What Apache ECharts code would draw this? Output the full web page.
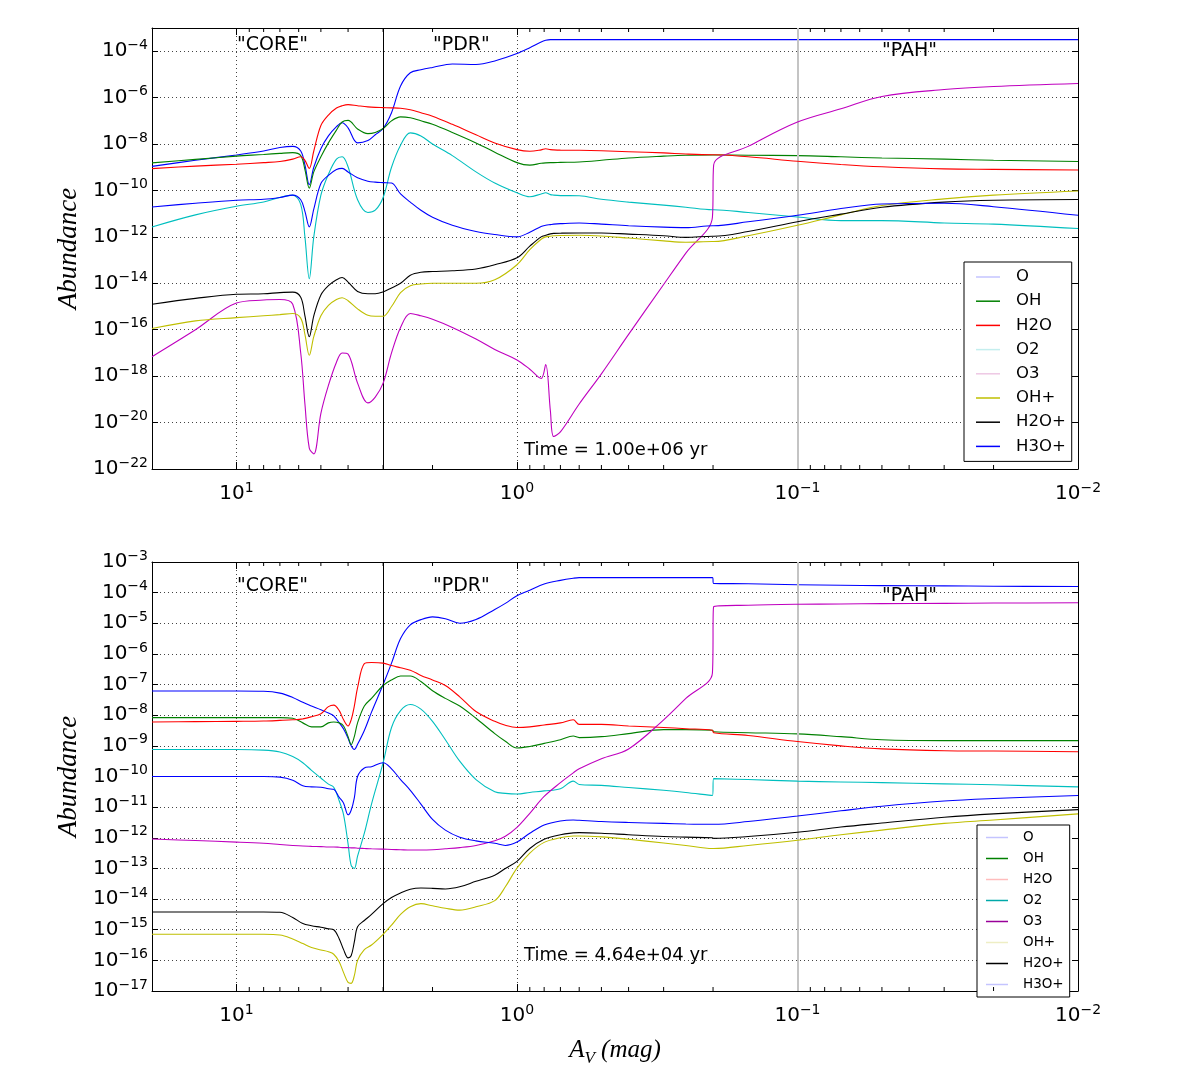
<!DOCTYPE html>
<html>
<head>
<meta charset="utf-8">
<title>Abundance vs A_V</title>
<script src="https://cdn.jsdelivr.net/npm/echarts@6/dist/echarts.min.js"></script>
<style>
html, body { margin: 0; padding: 0; background: #fff; }
#chart { width: 1200px; height: 1068px; }
</style>
</head>
<body>
<div id="chart"></div>
<script>
// species, in plotting order
var species = ['O', 'OH', 'H2O', 'O2', 'O3', 'OH+', 'H2O+', 'H3O+'];

// A_V sample points (mag) for each panel
var avTop = [20, 14, 10, 8, 7, 6.3, 5.9, 5.7, 5.5, 5.3, 5.0, 4.7, 4.4, 4.2, 4.0, 3.7, 3.4, 3.2, 3.0, 2.8,
  2.6, 2.4, 2.2, 2.0, 1.7, 1.4, 1.2, 1.0, 0.9, 0.82, 0.79, 0.76, 0.74, 0.7, 0.6, 0.5, 0.4, 0.3, 0.25, 0.201,
  0.199, 0.15, 0.1, 0.07, 0.05, 0.03, 0.02, 0.01];
var avBottom = [20, 14, 10, 8, 7, 6.3, 5.8, 5.4, 5.0, 4.7, 4.5, 4.3, 4.15, 4.0, 3.9, 3.8, 3.7, 3.5, 3.3, 3.0,
  2.8, 2.6, 2.4, 2.2, 2.0, 1.8, 1.6, 1.4, 1.2, 1.1, 1.0, 0.9, 0.8, 0.7, 0.63, 0.6, 0.5, 0.4, 0.3, 0.25,
  0.201, 0.199, 0.15, 0.1, 0.07, 0.05, 0.03, 0.02, 0.01];

// minor tick positions on the A_V axis
var minorTickAv = [0.02, 0.03, 0.04, 0.05, 0.06, 0.07, 0.08, 0.09,
  0.2, 0.3, 0.4, 0.5, 0.6, 0.7, 0.8, 0.9,
  2, 3, 4, 5, 6, 7, 8, 9];

// log10(abundance) (t = 1.00e+06 yr)
var topO = [-8.96, -8.70, -8.47, -8.30, -8.15, -8.10, -8.30, -8.90, -9.75, -9.00,
  -8.20, -7.65, -7.25, -7.08, -7.30, -7.95, -7.85, -7.60, -7.33, -6.65,
  -5.50, -4.93, -4.80, -4.70, -4.55, -4.57, -4.42, -4.10, -3.85, -3.60,
  -3.53, -3.50, -3.50, -3.50, -3.50, -3.50, -3.50, -3.50, -3.50, -3.50,
  -3.50, -3.50, -3.50, -3.50, -3.50, -3.50, -3.50, -3.50];
var topOH = [-8.81, -8.66, -8.52, -8.45, -8.40, -8.37, -8.50, -9.10, -9.90, -9.20,
  -8.55, -7.95, -7.40, -7.05, -6.98, -7.35, -7.55, -7.50, -7.33, -7.00,
  -6.83, -6.87, -7.00, -7.15, -7.50, -7.95, -8.35, -8.80, -8.91, -8.83,
  -8.81, -8.80, -8.80, -8.79, -8.77, -8.70, -8.60, -8.52, -8.48, -8.47,
  -8.47, -8.48, -8.50, -8.55, -8.60, -8.65, -8.70, -8.75];
var topH2O = [-9.06, -8.95, -8.87, -8.80, -8.75, -8.65, -8.55, -8.70, -9.05, -8.30,
  -7.20, -6.75, -6.45, -6.35, -6.30, -6.35, -6.40, -6.42, -6.43, -6.44,
  -6.46, -6.52, -6.65, -6.80, -7.15, -7.60, -7.95, -8.24, -8.31, -8.25,
  -8.20, -8.24, -8.25, -8.26, -8.27, -8.29, -8.33, -8.38, -8.43, -8.46,
  -8.46, -8.55, -8.74, -8.88, -8.98, -9.07, -9.09, -9.12];
var topO2 = [-11.57, -11.05, -10.68, -10.50, -10.30, -10.20, -10.60, -12.00, -13.80, -12.00,
  -10.20, -9.30, -8.65, -8.55, -8.98, -10.40, -10.95, -10.85, -10.30, -9.00,
  -8.05, -7.52, -7.65, -8.00, -8.50, -9.20, -9.68, -10.10, -10.27, -10.15,
  -10.10, -10.18, -10.20, -10.22, -10.23, -10.38, -10.50, -10.63, -10.72, -10.83,
  -10.83, -10.95, -11.14, -11.30, -11.30, -11.40, -11.45, -11.64];
var topO3 = [-17.16, -16.00, -14.85, -14.72, -14.70, -14.90, -17.00, -19.20, -21.10, -21.35,
  -19.60, -18.40, -17.40, -17.00, -17.05, -18.30, -19.15, -18.90, -18.30, -17.00,
  -15.90, -15.30, -15.40, -15.55, -15.90, -16.40, -16.85, -17.30, -17.70, -18.10,
  -17.50, -19.50, -20.60, -20.40, -19.20, -17.90, -16.20, -14.05, -12.70, -11.15,
  -8.90, -8.10, -7.05, -6.48, -5.95, -5.65, -5.52, -5.39];
var topOHp = [-15.95, -15.62, -15.48, -15.40, -15.35, -15.30, -15.50, -16.20, -17.10, -16.30,
  -15.40, -14.95, -14.70, -14.62, -14.75, -15.10, -15.38, -15.42, -15.42, -15.00,
  -14.40, -14.10, -14.03, -14.00, -14.00, -14.00, -13.85, -13.20, -12.55, -12.10,
  -12.00, -11.97, -11.95, -11.94, -11.93, -11.96, -12.05, -12.17, -12.23, -12.20,
  -12.20, -11.95, -11.50, -11.05, -10.65, -10.36, -10.20, -10.02];
var topH2Op = [-14.90, -14.65, -14.47, -14.45, -14.40, -14.38, -14.60, -15.40, -16.30, -15.40,
  -14.50, -14.10, -13.85, -13.75, -13.95, -14.35, -14.45, -14.45, -14.37, -14.20,
  -14.00, -13.65, -13.52, -13.49, -13.46, -13.38, -13.20, -12.90, -12.40, -12.00,
  -11.93, -11.87, -11.85, -11.84, -11.83, -11.83, -11.88, -11.95, -12.02, -11.97,
  -11.97, -11.77, -11.35, -11.02, -10.72, -10.50, -10.42, -10.39];
var topH3Op = [-10.71, -10.55, -10.42, -10.38, -10.30, -10.20, -10.40, -10.90, -11.57, -10.80,
  -9.70, -9.35, -9.10, -9.05, -9.20, -9.45, -9.60, -9.64, -9.66, -9.68,
  -10.15, -10.50, -10.85, -11.15, -11.50, -11.77, -11.90, -12.00, -11.80, -11.55,
  -11.50, -11.47, -11.45, -11.43, -11.40, -11.45, -11.52, -11.58, -11.60, -11.52,
  -11.52, -11.35, -11.07, -10.78, -10.58, -10.55, -10.70, -11.07];

// log10(abundance) (t = 4.64e+04 yr)
var botO = [-7.21, -7.21, -7.21, -7.22, -7.28, -7.42, -7.58, -7.70, -7.82, -7.93,
  -8.02, -8.25, -8.45, -8.75, -9.00, -9.12, -8.95, -8.50, -7.90, -7.00,
  -6.30, -5.50, -5.05, -4.88, -4.79, -4.85, -5.00, -4.88, -4.55, -4.35,
  -4.10, -3.92, -3.72, -3.60, -3.53, -3.51, -3.51, -3.51, -3.51, -3.51,
  -3.51, -3.70, -3.71, -3.74, -3.76, -3.77, -3.78, -3.79, -3.80];
var botOH = [-8.08, -8.08, -8.08, -8.08, -8.08, -8.10, -8.25, -8.38, -8.38, -8.25,
  -8.22, -8.25, -8.35, -8.70, -8.96, -8.70, -8.25, -7.70, -7.45, -7.03,
  -6.85, -6.72, -6.72, -6.90, -7.20, -7.45, -7.70, -8.10, -8.60, -8.85,
  -9.07, -9.02, -8.92, -8.80, -8.68, -8.73, -8.70, -8.60, -8.47, -8.47,
  -8.49, -8.54, -8.57, -8.61, -8.70, -8.80, -8.83, -8.83, -8.83];
var botH2O = [-8.22, -8.21, -8.20, -8.19, -8.17, -8.15, -8.12, -8.05, -7.95, -7.72,
  -7.67, -7.85, -8.15, -8.35, -8.15, -7.70, -7.10, -6.32, -6.28, -6.30,
  -6.38, -6.45, -6.53, -6.70, -6.85, -7.03, -7.40, -7.88, -8.20, -8.33,
  -8.40, -8.38, -8.32, -8.25, -8.15, -8.30, -8.30, -8.35, -8.40, -8.44,
  -8.49, -8.57, -8.66, -8.86, -9.00, -9.10, -9.16, -9.17, -9.19];
var botO2 = [-9.12, -9.12, -9.12, -9.14, -9.20, -9.35, -9.55, -9.80, -10.05, -10.25,
  -10.35, -10.80, -11.25, -12.20, -12.90, -13.00, -12.60, -11.85, -10.90, -9.55,
  -8.40, -7.85, -7.65, -7.80, -8.20, -8.80, -9.50, -10.10, -10.50, -10.55,
  -10.57, -10.52, -10.47, -10.40, -10.15, -10.26, -10.29, -10.36, -10.45, -10.52,
  -10.62, -10.07, -10.10, -10.15, -10.18, -10.20, -10.24, -10.27, -10.34];
var botO3 = [-12.04, -12.09, -12.14, -12.18, -12.22, -12.25, -12.27, -12.28, -12.29, -12.30,
  -12.30, -12.31, -12.32, -12.32, -12.33, -12.33, -12.34, -12.35, -12.36, -12.37,
  -12.38, -12.39, -12.40, -12.40, -12.39, -12.36, -12.32, -12.25, -12.10, -11.95,
  -11.66, -11.20, -10.65, -10.20, -9.88, -9.75, -9.42, -9.10, -8.15, -7.45,
  -6.62, -4.46, -4.41, -4.38, -4.37, -4.36, -4.35, -4.34, -4.33];
var botOHp = [-15.15, -15.15, -15.15, -15.15, -15.17, -15.30, -15.45, -15.58, -15.66, -15.72,
  -15.80, -16.05, -16.40, -16.72, -16.75, -16.50, -16.00, -15.65, -15.50, -15.15,
  -14.85, -14.50, -14.25, -14.15, -14.22, -14.30, -14.36, -14.25, -14.05, -13.60,
  -12.99, -12.50, -12.15, -12.00, -11.94, -11.94, -11.97, -12.05, -12.17, -12.25,
  -12.35, -12.35, -12.25, -12.08, -11.90, -11.75, -11.53, -11.42, -11.22];
var botH2Op = [-14.42, -14.42, -14.42, -14.42, -14.43, -14.60, -14.80, -14.87, -14.92, -14.97,
  -15.00, -15.30, -15.65, -15.92, -15.85, -15.40, -14.90, -14.70, -14.50, -14.15,
  -13.95, -13.80, -13.68, -13.64, -13.65, -13.67, -13.60, -13.42, -13.22, -13.00,
  -12.77, -12.35, -12.05, -11.90, -11.84, -11.83, -11.85, -11.90, -11.96, -11.98,
  -12.00, -12.02, -11.96, -11.82, -11.65, -11.52, -11.33, -11.22, -11.08];
var botH3Op = [-10.00, -10.00, -10.00, -10.00, -10.02, -10.12, -10.30, -10.34, -10.35, -10.40,
  -10.42, -10.68, -10.87, -11.25, -11.10, -10.70, -10.00, -9.72, -9.68, -9.55,
  -9.75, -10.10, -10.45, -10.90, -11.40, -11.75, -11.98, -12.10, -12.18, -12.25,
  -12.14, -11.85, -11.58, -11.45, -11.42, -11.43, -11.47, -11.50, -11.53, -11.55,
  -11.56, -11.56, -11.47, -11.29, -11.12, -10.97, -10.80, -10.72, -10.62];

var topSets = [topO, topOH, topH2O, topO2, topO3, topOHp, topH2Op, topH3Op];
var botSets = [botO, botOH, botH2O, botO2, botO3, botOHp, botH2Op, botH3Op];

// region boundaries (A_V)
var coreEdge = 3;
var pahEdge = 0.1;

var lineColors = ['#0000ff', '#008000', '#ff0000', '#00bfbf', '#bf00bf', '#bfbf00', '#000000', '#0000ff'];
var topLegendColors = ['#c4c4ff', '#008000', '#ff0000', '#c4eeee', '#eec8e4', '#bfbf00', '#000000', '#0000ff'];
var botLegendColors = ['#c4c4ff', '#008000', '#ffbcbc', '#00a8a8', '#990099', '#eeeec4', '#000000', '#c4c4ff'];

var font = 'DejaVu Sans';
var supRich = {
  b: { fontFamily: font, fontSize: 20, color: '#000', lineHeight: 26 },
  s: { fontFamily: font, fontSize: 14, color: '#000', lineHeight: 14, verticalAlign: 'top' }
};
function powText(e) {
  return '{b|10}{s|' + String(e).replace('-', '\u2212') + '}';
}

function pairs(av, logs) {
  return av.map(function (a, i) { return [a, logs[i]]; });
}

function xAxisCfg(gi, main) {
  return {
    type: 'log', logBase: 10, gridIndex: gi, min: 0.01, max: 20, interval: 1, inverse: true,
    position: main ? 'bottom' : 'top',
    axisLine: { show: true, onZero: false, lineStyle: { color: '#000', width: 1 } },
    axisTick: { show: true, inside: true, length: 7, lineStyle: { color: '#000' } },
    axisLabel: { show: main, showMaxLabel: false, margin: 12, rich: supRich,
      formatter: function (v) { return powText(Math.round(Math.log10(v))); } },
    splitLine: { show: main, lineStyle: { color: '#444', width: 1, type: [1, 3] } }
  };
}
// y axes carry log10(abundance)
function yAxisCfg(gi, main, min, max, step, showTop) {
  return {
    type: 'value', gridIndex: gi, min: min, max: max, interval: step,
    position: main ? 'left' : 'right',
    axisLine: { show: true, onZero: false, lineStyle: { color: '#000', width: 1 } },
    axisTick: { show: true, inside: true, length: 6, lineStyle: { color: '#000' } },
    axisLabel: { show: main, showMaxLabel: showTop, margin: 4, rich: supRich,
      formatter: function (v) { return powText(Math.round(v)); } },
    splitLine: { show: main, lineStyle: { color: '#444', width: 1, type: [1, 3] } },
    name: main ? 'Abundance' : '',
    nameLocation: 'middle', nameGap: 68,
    nameTextStyle: { fontFamily: 'Liberation Serif', fontStyle: 'italic', fontSize: 27, color: '#000' }
  };
}

var series = [];
function addPanel(av, sets, gi, yMin, yMax) {
  species.forEach(function (name, k) {
    var s = {
      name: name, type: 'line', xAxisIndex: gi * 2, yAxisIndex: gi * 2,
      data: pairs(av, sets[k]), showSymbol: false, symbol: 'none',
      smooth: 0.35,
      lineStyle: { color: lineColors[k], width: 1.1 },
      itemStyle: { color: lineColors[k] },
      z: 3 + k
    };
    if (k === 0) {
      s.markLine = {
        silent: true, symbol: 'none', label: { show: false }, animation: false,
        data: [
          { xAxis: coreEdge, lineStyle: { color: '#000', width: 1, type: 'solid' } },
          { xAxis: pahEdge, lineStyle: { color: '#c4c4c4', width: 2, type: 'solid' } }
        ]
      };
    }
    series.push(s);
  });
  // minor ticks of the log A_V axis, top and bottom edges
  series.push({
    type: 'custom', xAxisIndex: gi * 2, yAxisIndex: gi * 2, silent: true, clip: false, z: 20,
    data: minorTickAv.map(function (v) { return [v, yMin]; }),
    renderItem: function (params, api) {
      var lo = api.coord([api.value(0), yMin]);
      var hi = api.coord([api.value(0), yMax]);
      var st = { stroke: '#000', lineWidth: 1 };
      return { type: 'group', children: [
        { type: 'line', shape: { x1: lo[0], y1: lo[1], x2: lo[0], y2: lo[1] - 4 }, style: st },
        { type: 'line', shape: { x1: hi[0], y1: hi[1], x2: hi[0], y2: hi[1] + 4 }, style: st }
      ] };
    }
  });
}
addPanel(avTop, topSets, 0, -22, -3);
addPanel(avBottom, botSets, 1, -17, -3);

function legendCfg(top, left, colors, fs, gap, iw, pad, textPad) {
  return {
    orient: 'vertical', left: left, top: top, selectedMode: false,
    icon: 'rect', itemWidth: iw, itemHeight: 1.5, itemGap: gap,
    backgroundColor: '#fff', borderColor: '#000', borderWidth: 1, borderRadius: 0,
    padding: pad,
    textStyle: { fontFamily: font, fontSize: fs, lineHeight: Math.round(fs + 1), color: '#000', padding: [0, 0, 0, textPad] },
    data: species.map(function (n, k) {
      return { name: n, itemStyle: { color: colors[k] }, lineStyle: { color: colors[k] } };
    })
  };
}

function label(txt, x, y, fs) {
  return { type: 'text', x: x, y: y, z: 50,
    style: { text: txt, fontFamily: font, fontSize: fs, fill: '#000', verticalAlign: 'middle' } };
}

var option = {
  animation: false,
  backgroundColor: '#fff',
  grid: [
    { left: 152, top: 28, width: 926, height: 441 },
    { left: 152, top: 562, width: 926, height: 441 }
  ],
  xAxis: [
    xAxisCfg(0, true), xAxisCfg(0, false),
    Object.assign(xAxisCfg(1, true), {
      name: '{i|A}{sub|V}{i| (mag)}', nameLocation: 'middle', nameGap: 42,
      nameTextStyle: { rich: {
        i: { fontFamily: 'Liberation Serif', fontStyle: 'italic', fontSize: 25, color: '#000' },
        sub: { fontFamily: 'Liberation Serif', fontStyle: 'italic', fontSize: 17, color: '#000', verticalAlign: 'bottom', lineHeight: 34 }
      } }
    }),
    xAxisCfg(1, false)
  ],
  yAxis: [
    yAxisCfg(0, true, -22, -3, 2, false), yAxisCfg(0, false, -22, -3, 2, false),
    yAxisCfg(1, true, -17, -3, 1, true), yAxisCfg(1, false, -17, -3, 1, true)
  ],
  legend: [
    legendCfg(262, 964, topLegendColors, 16.5, 6.2, 24, [6, 6, 6, 12], 11),
    legendCfg(825, 977, botLegendColors, 13.5, 6, 22, [5, 6, 5, 9], 10)
  ],
  graphic: [
    label('"CORE"', 237, 45, 19),
    label('"PDR"', 433, 45, 19),
    label('"PAH"', 882, 51, 19),
    label('Time = 1.00e+06 yr', 524, 450, 18),
    label('"CORE"', 237, 586, 19),
    label('"PDR"', 433, 586, 19),
    label('"PAH"', 882, 596, 19),
    label('Time = 4.64e+04 yr', 524, 955, 18)
  ],
  series: series
};

var chart = echarts.init(document.getElementById('chart'), null, { renderer: 'canvas' });
chart.setOption(option);
</script>
</body>
</html>
